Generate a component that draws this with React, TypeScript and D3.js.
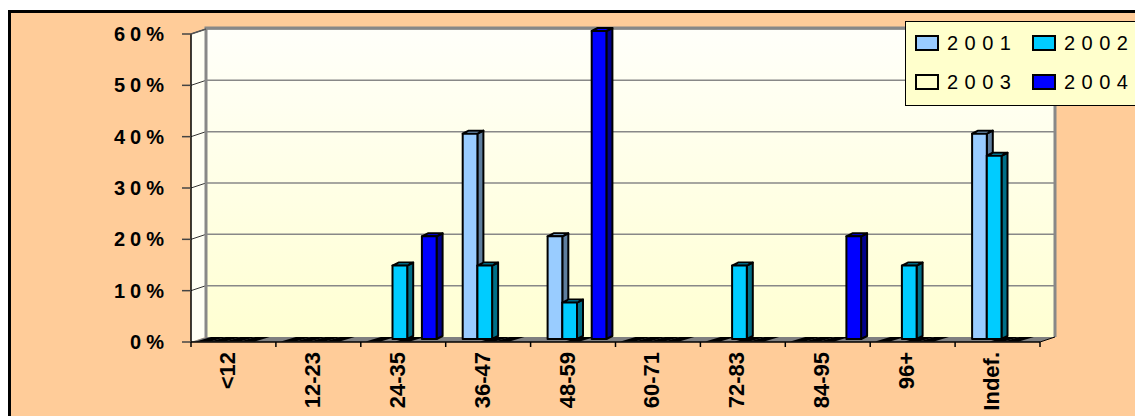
import React from 'react';
import * as d3 from 'd3';

const categories = ['<12', '12-23', '24-35', '36-47', '48-59', '60-71', '72-83', '84-95', '96+', 'Indef.'];
const seriesNames = ['2001', '2002', '2003', '2004'];
const values2001 = [0, 0, 0, 0.4, 0.2, 0, 0, 0, 0, 0.4];
const values2002 = [0, 0, 0.143, 0.143, 0.071, 0, 0.143, 0, 0.143, 0.357];
const values2003 = [0, 0, 0, 0, 0, 0, 0, 0, 0, 0];
const values2004 = [0, 0, 0.2, 0, 0.6, 0, 0, 0.2, 0, 0];
const yTicks = [0, 0.1, 0.2, 0.3, 0.4, 0.5, 0.6];

const fills = ['#99CCFF', '#00CCFF', '#FFFFCC', '#0000FF'];
const sides = ['#5E7E9E', '#006F88', '#9E9E7E', '#00008C'];

const settings = {
  width: 1135,
  height: 416,
  left: 191,
  right: 1040,
  base: 342,
  top: 34,
  depthX: 15,
  depthY: -5,
  barDX: 6,
  barDY: -3
};

const pts = (p: number[][]) => p.map(d => d.join(',')).join(' ');

function Bars({ x, inner, y }: any) {
  const { barDX, barDY, base, depthX, depthY } = settings;
  const all = [values2001, values2002, values2003, values2004];
  const yb = base - 3;
  const marks: any[] = [];
  categories.forEach((c, ci) => {
    seriesNames.forEach((s, si) => {
      const v = all[si][ci];
      const x0 = x(c) + inner(s);
      const w = inner.bandwidth();
      const yt = y(v) - 3;
      if (v === 0) {
        // flat zero-height column lying on the floor
        const fx = x0 - 12;
        marks.push(
          <polygon key={c + s} fill="#000"
            points={pts([[fx, base - 0.5], [fx + w, base - 0.5], [fx + w + depthX, base + depthY], [fx + depthX, base + depthY]])} />
        );
        return;
      }
      const topFace = [[x0, yt], [x0 + barDX, yt + barDY], [x0 + w + barDX, yt + barDY], [x0 + w, yt]];
      marks.push(
        <g key={c + s} stroke="#000" strokeWidth={2} strokeLinejoin="round">
          <polygon points={pts([[x0 + w, yt], [x0 + w + barDX, yt + barDY], [x0 + w + barDX, yb + barDY], [x0 + w, yb]])} fill={sides[si]} />
          <polygon points={pts(topFace)} fill={fills[si]} />
          <rect x={x0} y={yt} width={w} height={yb - yt} fill={fills[si]} />
        </g>
      );
    });
  });
  return <g>{marks}</g>;
}

export default function App() {
  const { width, height, left, right, base, top, depthX, depthY } = settings;
  const x = d3.scaleBand().domain(categories).range([left, right]).padding(0);
  const inner = d3.scaleBand().domain(seriesNames).range([17, 17 + 4 * 14.7]).padding(0);
  const y = d3.scaleLinear().domain([0, 0.6]).range([base, top]);
  const bx0 = left + depthX;
  const bx1 = right + depthX;
  const byTop = top + depthY - 1;
  const byBase = base + depthY;

  return (
    <svg width={width} height={height} style={{ position: 'fixed', left: 0, top: 0, display: 'block', background: '#fff' }}
      fontFamily="Arial, 'Liberation Sans', sans-serif">
      <defs>
        <linearGradient id="wall" x1="0" y1="0" x2="0" y2="1">
          <stop offset="0" stopColor="#FFFFFA" />
          <stop offset="1" stopColor="#FFFFD2" />
        </linearGradient>
      </defs>
      <rect x={9.5} y={11.5} width={1200} height={500} fill="#FFCC99" stroke="#000" strokeWidth={3} />

      {/* back wall */}
      <rect x={bx0} y={byTop} width={bx1 - bx0} height={byBase - byTop} fill="url(#wall)" />
      {/* side wall */}
      <polygon points={pts([[left, base], [left, top], [bx0, byTop], [bx0, byBase]])} fill="#FFFFF4" />

      {yTicks.slice(1).map(t => (
        <g key={t}>
          <line x1={bx0} x2={bx1} y1={y(t) + depthY} y2={y(t) + depthY} stroke="#888" strokeWidth={1.5} />
          <line x1={left} x2={bx0} y1={y(t)} y2={y(t) + depthY} stroke="#333" strokeWidth={1} />
        </g>
      ))}
      <polyline points={pts([[bx0, byBase], [bx0, byTop], [bx1, byTop], [bx1, byBase]])} fill="none" stroke="#888" strokeWidth={3} />

      {/* floor */}
      <polygon points={pts([[left, base], [right, base], [bx1, byBase], [bx0, byBase]])} fill="#808080" />

      <Bars x={x} inner={inner} y={y} />

      {/* axes */}
      <line x1={left} x2={left} y1={top} y2={base} stroke="#000" strokeWidth={1.5} />
      <line x1={left} x2={right} y1={base} y2={base} stroke="#000" strokeWidth={1.5} />
      <line x1={right} x2={bx1} y1={base} y2={byBase} stroke="#000" strokeWidth={1} />
      <line x1={left} x2={bx0} y1={top} y2={top + depthY} stroke="#555" strokeWidth={1.5} />
      {yTicks.map(t => (
        <g key={t}>
          <line x1={left - 9} x2={left} y1={y(t)} y2={y(t)} stroke="#444" strokeWidth={1.5} />
          <text x={169} y={y(t) + 7} textAnchor="end" fontSize={20} fontWeight="bold" letterSpacing={5}>
            {d3.format('.0%')(t)}
          </text>
        </g>
      ))}
      {categories.map(c => (
        <line key={c} x1={x(c)!} x2={x(c)!} y1={base} y2={base + 5} stroke="#000" strokeWidth={1.5} />
      ))}
      <line x1={right} x2={right} y1={base} y2={base + 5} stroke="#000" strokeWidth={1.5} />
      {categories.map(c => (
        <text key={c} transform={`translate(${x(c)! + x.bandwidth() / 2 + 1.5},${base + 10}) rotate(-90)`}
          textAnchor="end" fontSize={22} fontWeight="bold">{c}</text>
      ))}

      {/* legend */}
      <rect x={905.5} y={21.5} width={260} height={84} fill="#FFFFCC" stroke="#000" strokeWidth={1} />
      {seriesNames.map((s, i) => {
        const lx = i % 2 === 0 ? 916 : 1033;
        const ly = i < 2 ? 36 : 75;
        return (
          <g key={s}>
            <rect x={lx} y={ly} width={22} height={14} fill={fills[i]} stroke="#000" strokeWidth={2} />
            <text x={lx + 31} y={ly + 14} fontSize={20} letterSpacing={6.5}>{s}</text>
          </g>
        );
      })}
    </svg>
  );
}
